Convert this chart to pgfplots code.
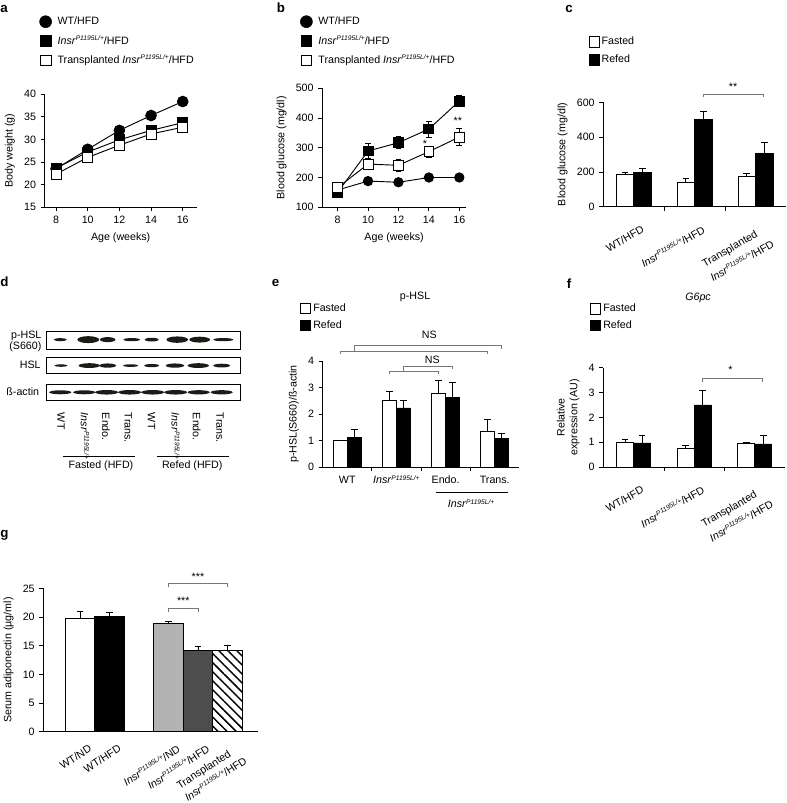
\documentclass[border=0pt]{standalone}
\usepackage{fontspec}
\setmainfont{Liberation Sans}
\usepackage{pgfplots}
\pgfplotsset{compat=1.18}
\usetikzlibrary{patterns.meta}

\newcommand{\f}{\fontsize{8}{9.5}\selectfont}
\newcommand{\supsc}[1]{\raisebox{0.6ex}{\fontsize{5}{5}\selectfont\itshape #1}}
\newcommand{\insr}{\textit{Insr}\supsc{P1195L/+}}
\definecolor{bandcol}{HTML}{1E1A16}
\definecolor{brk}{HTML}{777777}
\definecolor{lgray}{HTML}{B3B3B3}
\definecolor{dgray}{HTML}{4D4D4D}

\pgfdeclareplotmark{band}{%
  \pgfpathellipse{\pgfpointorigin}{\pgfqpoint{\bandw pt}{0pt}}{\pgfqpoint{0pt}{\bandh pt}}%
  \pgfusepathqfill}

\pgfplotsset{
  panel/.style={scale only axis, anchor=south west, clip=false,
    axis x line*=bottom, axis y line*=left,
    axis line style={line width=0.6pt, black},
    tick style={line width=0.6pt, black},
    tick align=outside, major tick length=3pt, minor tick length=3pt,
    /pgf/number format/assume math mode=true,
    tick label style={font=\f},
    label style={font=\f},
    legend cell align=left,
  },
  leg/.style={legend style={at={#1}, anchor=west, draw=none, fill=none, inner sep=0pt,
    font=\f, nodes={inner sep=1.5pt, text height=6pt, text depth=1.5pt}}},
  ebar/.style={error bars/y dir=plus, error bars/y explicit,
    error bars/error bar style={line width=0.6pt, black},
    error bars/error mark options={rotate=90, line width=0.6pt, black, mark size=2.5pt}},
  ebarb/.style={error bars/y dir=both, error bars/y explicit,
    error bars/error bar style={line width=0.6pt, black},
    error bars/error mark options={rotate=90, line width=0.6pt, black, mark size=2.2pt}},
  fbox/.style={legend image code/.code={\draw[line width=0.6pt, black, fill=white] (0pt,-3.8pt) rectangle (7.6pt,3.8pt);}},
  kbox/.style={legend image code/.code={\draw[line width=0.6pt, black, fill=black] (0pt,-3.8pt) rectangle (7.6pt,3.8pt);}},
  blot/.style={scale only axis, anchor=south west, clip=false, xmin=0, xmax=194, ymin=0, ymax=1,
    axis line style={line width=0.7pt}, xtick=\empty, ytick=\empty},
  band plot/.style={scatter, only marks, mark=band,
    point meta min=0, point meta max=1,
    scatter/use mapped color={draw=bandcol, fill=bandcol},
    visualization depends on={value \thisrow{w}\as\bandw},
    visualization depends on={value \thisrow{h}\as\bandh}},
  brk/.style={draw=brk, line width=0.6pt},
  bars/.style={ybar, bar shift=0pt, draw=black, line width=0.6pt, ebar},
  rotlab/.style={xticklabel style={align=left, anchor=north east, font=\fontsize{8}{12.5}\selectfont, #1}},
}

\begin{document}
\begin{tikzpicture}
\path[use as bounding box] (0pt,0pt) rectangle (590.25pt,602.25pt);

% panel letters
\begin{scope}[every node/.style={font=\bfseries\fontsize{10}{10}\selectfont, anchor=base west, inner sep=0pt}]
\node at (0pt,593pt) {a};
\node at (207.5pt,593pt) {b};
\node at (423.75pt,592.7pt) {c};
\node at (0pt,387.2pt) {d};
\node at (203.75pt,387.2pt) {e};
\node at (425pt,386pt) {f};
\node at (0pt,198.75pt) {g};
\end{scope}

%================ a
\begin{axis}[panel, at={(33.5pt,447pt)}, width=114pt, height=84.5pt,
  xmin=7.28, xmax=16.88, ymin=15, ymax=40,
  xtick={8,10,12,14,16}, ytick={15,20,25,30,35,40},
  xlabel={Age (weeks)}, ylabel={Body weight (g)},
  leg={(axis description cs:-0.035,1.473)}, legend style={row sep=4pt, column sep=3pt}]
\addlegendimage{only marks, mark=*, mark size=4.5pt, black}
\addlegendentry{WT/HFD}
\addlegendimage{only marks, mark=square*, mark size=4pt, black}
\addlegendentry{\insr/HFD}
\addlegendimage{only marks, mark=square*, mark size=4pt, black, mark options={fill=white, line width=0.6pt}}
\addlegendentry{Transplanted \insr/HFD}
\addplot[forget plot, black, line width=0.7pt, mark=square*, mark size=3.7pt, ebarb]
 table[x=x, y=y, y error=e] {
x y e
8 23.6 0.4
10 27.2 0.5
12 29.9 0.5
14 32.0 0.6
16 33.7 0.6
};
\addplot[forget plot, black, line width=0.7pt, mark=*, mark size=4pt, ebarb]
 table[x=x, y=y, y error=e] {
x y e
8 23.5 0.5
10 27.8 0.6
12 32.0 0.6
14 35.3 0.8
16 38.4 0.8
};
\addplot[forget plot, black, line width=0.7pt, mark=square*, mark size=3.7pt, mark options={fill=white, line width=0.6pt}, ebarb]
 table[x=x, y=y, y error=e] {
x y e
8 22.3 0.4
10 26.0 0.5
12 28.7 0.5
14 31.2 0.6
16 32.7 0.6
};
\end{axis}

%================ b
\begin{axis}[panel, at={(241.7pt,446.8pt)}, width=107.8pt, height=89.25pt,
  xmin=6.99, xmax=16.44, ymin=100, ymax=500,
  xtick={8,10,12,14,16}, ytick={100,200,300,400,500},
  xlabel={Age (weeks)}, ylabel={Blood glucose (mg/dl)},
  leg={(axis description cs:-0.154,1.397)}, legend style={row sep=4pt, column sep=3pt}]
\addlegendimage{only marks, mark=*, mark size=4.5pt, black}
\addlegendentry{WT/HFD}
\addlegendimage{only marks, mark=square*, mark size=4pt, black}
\addlegendentry{\insr/HFD}
\addlegendimage{only marks, mark=square*, mark size=4pt, black, mark options={fill=white, line width=0.6pt}}
\addlegendentry{Transplanted \insr/HFD}
\addplot[forget plot, black, line width=0.7pt, mark=*, mark size=3.5pt, ebarb]
 table[x=x, y=y, y error=e] {
x y e
8 158 5
10 188 6
12 184 6
14 200 6
16 200 6
};
\addplot[forget plot, black, line width=0.7pt, mark=square*, mark size=3.7pt, ebarb]
 table[x=x, y=y, y error=e] {
x y e
8 150 8
10 289 24
12 317 20
14 363 27
16 457 18
};
\addplot[forget plot, black, line width=0.7pt, mark=square*, mark size=3.7pt, mark options={fill=white, line width=0.6pt}, ebarb]
 table[x=x, y=y, y error=e] {
x y e
8 166 10
10 245 18
12 241 20
14 287 18
16 336 28
};
\node[font=\f, yshift=-1.8pt] at (axis cs:13.74,320) {*};
\node[font=\f, yshift=-1.8pt] at (axis cs:15.9,397) {**};
\end{axis}

%================ c
\begin{axis}[panel, at={(452.5pt,447.2pt)}, width=137pt, height=78.3pt,
  xmin=0.5, xmax=3.5, ymin=0, ymax=600, ytick={0,200,400,600},
  xtick={1,2,3}, minor xtick={1.5,2.5}, major x tick style={draw=none},
  xticklabels={{WT/HFD},{\insr/HFD},{Transplanted\\\insr/HFD}},
  rotlab={xshift=6.6pt, yshift=-6pt, rotate=30},
  ylabel={Blood glucose (mg/dl)},
  leg={(axis description cs:-0.082,1.493)}, legend style={row sep=3pt}]
\addlegendimage{fbox}\addlegendentry{Fasted}
\addlegendimage{kbox}\addlegendentry{Refed}
\addplot[forget plot, bars, bar width=0.29, fill=white]
 table[x=x, y=y, y error=e] {
x y e
0.855 184 15
1.855 142 19
2.855 176 15
};
\addplot[forget plot, bars, bar width=0.29, fill=black]
 table[x=x, y=y, y error=e] {
x y e
1.145 197 21
2.145 504 46
3.145 305 67
};
\draw[brk] (axis cs:2.145,629) |- (axis cs:3.12,648) -- (axis cs:3.12,629);
\node[font=\f, yshift=-1.8pt] at (axis cs:2.63,705) {**};
\end{axis}

%================ d (blot)
\begin{axis}[blot, at={(35pt,340.5pt)}, width=145.5pt, height=13pt]
\node[anchor=north east, align=right, inner sep=0pt, font=\fontsize{8}{8.3}\selectfont, xshift=-3.75pt, yshift=0.5pt] at (rel axis cs:0,1) {p-HSL\\(S660)};
\addplot[band plot] table[x=x, y=y] {
x y w h
13.6 0.54 5.0 1.1
41.6 0.54 8.2 2.6
61.0 0.54 5.8 1.9
85.0 0.54 6.2 1.2
105.0 0.54 5.2 1.4
130.6 0.54 8.1 2.4
153.0 0.54 7.8 2.2
176.6 0.54 7.5 1.2
};
\end{axis}
\begin{axis}[blot, at={(35pt,322.3pt)}, width=145.5pt, height=12pt]
\node[anchor=east, inner sep=0pt, font=\f, xshift=-4.3pt] at (rel axis cs:0,0.5) {HSL};
\addplot[band plot] table[x=x, y=y] {
x y w h
14.3 0.48 5.0 0.9
42.6 0.48 8.0 1.8
61.0 0.48 6.3 1.6
84.0 0.48 5.6 1.0
105.0 0.48 5.6 1.2
128.3 0.48 6.9 1.6
151.6 0.48 8.0 1.8
175.0 0.48 6.3 1.4
};
\end{axis}
\begin{axis}[blot, at={(35pt,302.25pt)}, width=145.5pt, height=11.8pt,
  xtick={14.3,38.3,59.3,81.6,105,129,150,173.3}, major tick length=0pt,
  xticklabels={WT,\insr,Endo.,Trans.,WT,\insr,Endo.,Trans.},
  xticklabel style={font=\f, anchor=west, yshift=-9.5pt, rotate=-90, inner sep=0pt}]
\node[anchor=east, inner sep=0pt, font=\f, xshift=-5.5pt] at (rel axis cs:0,0.5) {ß-actin};
\addplot[band plot] table[x=x, y=y] {
x y w h
13.6 0.49 8.3 1.5
37.6 0.49 8.3 1.5
60.0 0.49 8.6 1.7
83.0 0.49 8.6 1.7
106.0 0.49 8.6 1.7
129.0 0.49 8.6 1.7
152.0 0.49 8.3 1.6
175.0 0.49 8.3 1.6
};
\draw[line width=0.6pt] (axis cs:16.3,-3.57) -- (axis cs:88.3,-3.57);
\draw[line width=0.6pt] (axis cs:110,-3.57) -- (axis cs:182.6,-3.57);
\node[font=\f, anchor=north, inner sep=0pt, yshift=-3pt] at (axis cs:54.3,-3.57) {Fasted (HFD)};
\node[font=\f, anchor=north, inner sep=0pt, yshift=-3pt] at (axis cs:145.6,-3.57) {Refed (HFD)};
\end{axis}

%================ e
\begin{axis}[panel, at={(242pt,252pt)}, width=147.5pt, height=79.5pt,
  xmin=0.5, xmax=4.5, ymin=0, ymax=4, ytick={0,1,2,3,4},
  xtick={1,2,3,4}, minor xtick={1.5,2.5,3.5}, major x tick style={draw=none},
  xticklabels={WT,\insr,Endo.,Trans.},
  ylabel={p-HSL(S660)/ß-actin},
  leg={(axis description cs:-0.115,1.414)}, legend style={row sep=2pt}]
\addlegendimage{fbox}\addlegendentry{Fasted}
\addlegendimage{kbox}\addlegendentry{Refed}
\addplot[forget plot, bars, bar width=0.285, fill=white]
 table[x=x, y=y, y error=e] {
x y e
0.8575 1.00 0.0
1.8575 2.53 0.31
2.8575 2.79 0.46
3.8575 1.33 0.45
};
\addplot[forget plot, bars, bar width=0.285, fill=black]
 table[x=x, y=y, y error=e] {
x y e
1.1425 1.10 0.30
2.1425 2.23 0.28
3.1425 2.61 0.58
4.1425 1.08 0.20
};
\node[font=\f] at (rel axis cs:0.47,1.604) {p-HSL};
\draw[brk] (axis cs:0.8575,4.25) |- (axis cs:3.8575,4.375) -- (axis cs:3.8575,4.25);
\draw[brk] (axis cs:1.1425,4.375) |- (axis cs:4.1425,4.6) -- (axis cs:4.1425,4.44);
\node[font=\f] at (axis cs:2.67,4.98) {NS};
\draw[brk] (axis cs:1.8575,3.5) |- (axis cs:2.8575,3.6) -- (axis cs:2.8575,3.5);
\draw[brk] (axis cs:2.1425,3.6) |- (axis cs:3.1425,3.81) -- (axis cs:3.1425,3.69);
\node[font=\f] at (axis cs:2.73,4.06) {NS};
\draw[line width=0.6pt] (axis cs:2.8,-0.966) -- (axis cs:4.27,-0.966);
\node[font=\f] at (axis cs:3.52,-1.38) {\insr};
\end{axis}

%================ f
\begin{axis}[panel, at={(452.5pt,252pt)}, width=136.3pt, height=74.5pt,
  xmin=0.5, xmax=3.5, ymin=0, ymax=4, ytick={0,1,2,3,4},
  xtick={1,2,3}, minor xtick={1.5,2.5}, major x tick style={draw=none},
  xticklabels={{WT/HFD},{\insr/HFD},{Transplanted\\\insr/HFD}},
  rotlab={xshift=6.6pt, yshift=-6pt, rotate=30},
  ylabel={Relative\\expression (AU)}, ylabel style={align=center},
  leg={(axis description cs:-0.073,1.508)}, legend style={row sep=2pt}]
\addlegendimage{fbox}\addlegendentry{Fasted}
\addlegendimage{kbox}\addlegendentry{Refed}
\addplot[forget plot, bars, bar width=0.28, fill=white]
 table[x=x, y=y, y error=e] {
x y e
0.86 1.00 0.10
1.86 0.74 0.11
2.86 0.94 0.04
};
\addplot[forget plot, bars, bar width=0.28, fill=black]
 table[x=x, y=y, y error=e] {
x y e
1.14 0.97 0.29
2.14 2.50 0.58
3.14 0.93 0.36
};
\node[font=\f\itshape] at (rel axis cs:0.521,1.704) {G6pc};
\draw[brk] (axis cs:2.14,3.42) |- (axis cs:3.12,3.58) -- (axis cs:3.12,3.42);
\node[font=\f, yshift=-1.8pt] at (axis cs:2.6,3.99) {*};
\end{axis}

%================ g
\begin{axis}[panel, at={(32.5pt,53.5pt)}, width=161.25pt, height=107.5pt,
  xmin=-0.25, xmax=7.05, ymin=0, ymax=25, ytick={0,5,10,15,20,25},
  xtick={1,2,4,5,6}, major x tick style={draw=none},
  xticklabels={{WT/ND},{WT/HFD},{\insr/ND},{\insr/HFD},{Transplanted\\\insr/HFD}},
  rotlab={xshift=7pt, yshift=-1.5pt, rotate=33, font=\fontsize{8}{11}\selectfont},
  ylabel={Serum adiponectin (µg/ml)}]
\addplot[bars, bar width=1, fill=white]
 table[x=x, y=y, y error=e] {
x y e
1 19.8 1.2
};
\addplot[bars, bar width=1, fill=black]
 table[x=x, y=y, y error=e] {
x y e
2 20.1 0.75
};
\addplot[bars, bar width=1, fill=lgray]
 table[x=x, y=y, y error=e] {
x y e
4 18.8 0.45
};
\addplot[bars, bar width=1, fill=dgray]
 table[x=x, y=y, y error=e] {
x y e
5 14.2 0.6
};
\addplot[bars, bar width=1, pattern={Lines[angle=-45, distance=4.8pt, line width=1.1pt]}]
 table[x=x, y=y, y error=e] {
x y e
6 14.2 0.8
};
\draw[brk] (axis cs:4,20.9) |- (axis cs:5,21.6) -- (axis cs:5,20.9);
\node[font=\f, yshift=-1.8pt] at (axis cs:4.5,23.3) {***};
\draw[brk] (axis cs:4,25.3) |- (axis cs:6,25.9) -- (axis cs:6,25.3);
\node[font=\f, yshift=-1.8pt] at (axis cs:5,27.5) {***};
\end{axis}
\end{tikzpicture}
\end{document}
